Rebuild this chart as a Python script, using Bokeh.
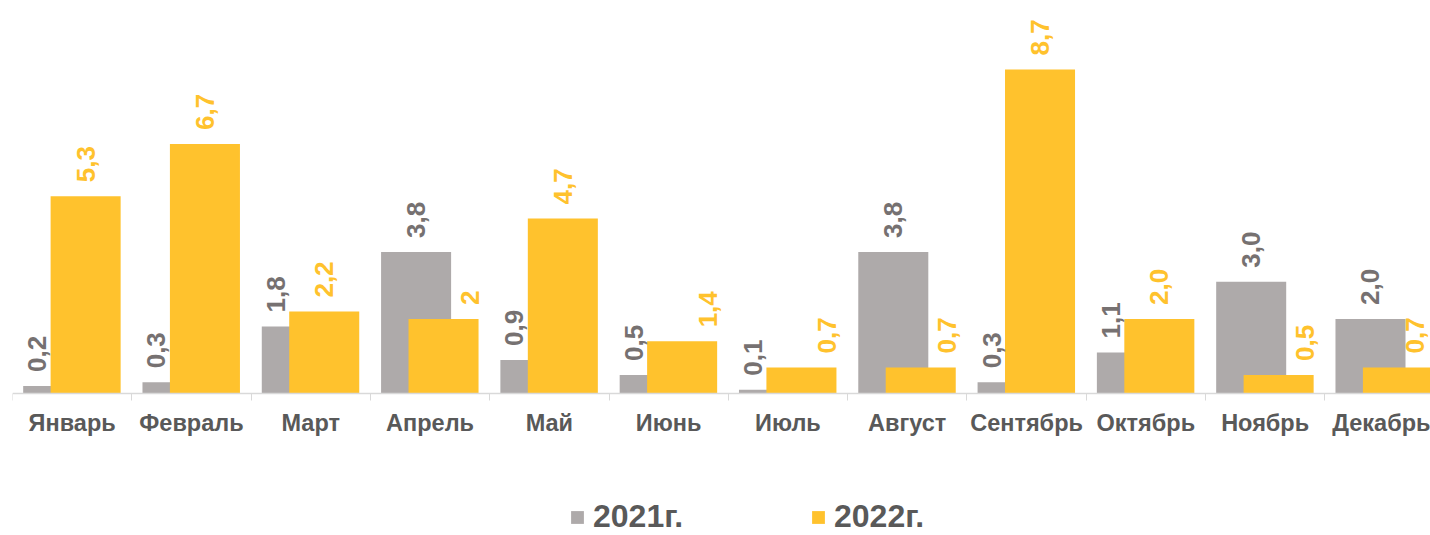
from bokeh.plotting import figure
from bokeh.models import ColumnDataSource, Range1d, FixedTicker, Legend, LegendItem
from bokeh.core.properties import value
from bokeh.embed import file_html
from bokeh.resources import INLINE
import math

months = ["Январь", "Февраль", "Март", "Апрель", "Май", "Июнь", "Июль",
          "Август", "Сентябрь", "Октябрь", "Ноябрь", "Декабрь"]
v2021 = [0.2, 0.3, 1.8, 3.8, 0.9, 0.5, 0.1, 3.8, 0.3, 1.1, 3.0, 2.0]
v2022 = [5.3, 6.7, 2.2, 2.0, 4.7, 1.4, 0.7, 0.7, 8.7, 2.0, 0.5, 0.7]
lab2021 = ["0,2", "0,3", "1,8", "3,8", "0,9", "0,5", "0,1", "3,8", "0,3", "1,1", "3,0", "2,0"]
lab2022 = ["5,3", "6,7", "2,2", "2", "4,7", "1,4", "0,7", "0,7", "8,7", "2,0", "0,5", "0,7"]
series_names = ["2021г.", "2022г."]

GRAY = "#AEAAAA"
YELLOW = "#FFC22D"
GRAY_TXT = "#767171"
AXIS_TXT = "#595959"
FONT = "Liberation Sans"

W, H = 1430, 535
left_pad = 12
frame_bottom = 393
cat_px = 119.3
px_per_unit = 37.24

idx = list(range(len(months)))
xc = [i + 0.5 for i in idx]
x21 = [i + 0.383 for i in idx]
x22 = [i + 0.613 for i in idx]
bw = 0.587

# label nudges (screen px): gray label sits over the visible part of the gray bar
# when the yellow bar is taller; yellow label moves right when it is short / lower,
# but is kept inside the page
dx21 = [-21 if b > a else 0 for a, b in zip(v2021, v2022)]
dx22 = []
for i, (a, b) in enumerate(zip(v2021, v2022)):
    d = 26 if (a > b or b < 2) else 0
    xpx = left_pad + x22[i] * cat_px + d
    d -= max(0, xpx - (W - 16))
    dx22.append(d)

src21 = ColumnDataSource(dict(x=x21, top=v2021, lab=lab2021, dx=dx21))
src22 = ColumnDataSource(dict(x=x22, top=v2022, lab=lab2022, dx=dx22))

p = figure(width=W, height=H, output_backend="svg", toolbar_location=None,
           x_range=Range1d(0, (W - left_pad) / cat_px),
           y_range=Range1d(-(H - frame_bottom) / px_per_unit, frame_bottom / px_per_unit),
           min_border_left=left_pad, min_border_right=0, min_border_top=0,
           min_border_bottom=0)
p.outline_line_color = None
p.grid.visible = False
p.yaxis.visible = False

r21 = p.vbar(x="x", top="top", width=bw, bottom=0, source=src21,
             fill_color=GRAY, line_color=None)
r22 = p.vbar(x="x", top="top", width=bw, bottom=0, source=src22,
             fill_color=YELLOW, line_color=None)

p.text(x="x", y="top", text="lab", source=src21, angle=math.pi / 2,
       text_align="left", text_baseline="middle", x_offset="dx", y_offset=-14,
       text_font=value(FONT), text_font_style="bold", text_font_size="26px",
       text_color=GRAY_TXT)
p.text(x="x", y="top", text="lab", source=src22, angle=math.pi / 2,
       text_align="left", text_baseline="middle", x_offset="dx", y_offset=-14,
       text_font=value(FONT), text_font_style="bold", text_font_size="26px",
       text_color=YELLOW)

ax = p.xaxis[0]
ax.fixed_location = 0
ax.ticker = FixedTicker(ticks=xc, minor_ticks=list(range(len(months) + 1)))
ax.major_label_overrides = {x: m for x, m in zip(xc, months)}
ax.major_tick_line_color = None
ax.major_tick_out = 0
ax.major_tick_in = 0
ax.minor_tick_out = 7
ax.minor_tick_in = 0
ax.minor_tick_line_color = "#D9D9D9"
ax.axis_line_color = "#D9D9D9"
ax.axis_line_width = 1.5
ax.major_label_standoff = 9
ax.major_label_text_font = FONT
ax.major_label_text_font_style = "bold"
ax.major_label_text_font_size = "23.5px"
ax.major_label_text_color = AXIS_TXT

legend = Legend(items=[LegendItem(label=series_names[0], renderers=[r21]),
                       LegendItem(label=series_names[1], renderers=[r22])],
                orientation="horizontal", location=(557, 0),
                glyph_width=16, glyph_height=16, label_standoff=8,
                label_width=217, spacing=0, padding=0, margin=0,
                border_line_color=None, background_fill_alpha=0,
                label_text_font=FONT, label_text_font_style="bold",
                label_text_font_size="32px", label_text_color=AXIS_TXT)
p.add_layout(legend)

open("out.html", "w").write(file_html(p, INLINE))
